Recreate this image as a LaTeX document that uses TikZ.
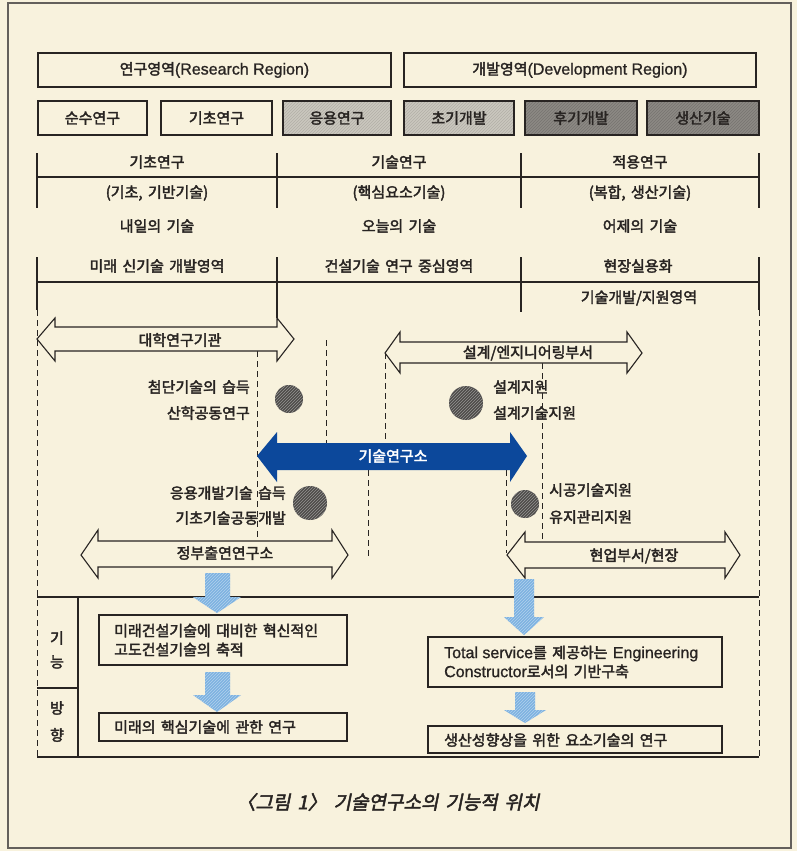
\documentclass[tikz,border=0pt]{standalone}
\usepackage{fontspec}
\setmainfont{Noto Sans CJK KR}[FakeBold=2.5, WordSpace=1.6]
\newfontfamily\latfont{Liberation Sans}[FakeBold=1]
\newfontfamily\capfont{Noto Sans CJK KR}[FakeSlant=0.2, FakeBold=2.5, WordSpace=1.6]
\usetikzlibrary{patterns}
\definecolor{bg}{RGB}{248,242,221}
\definecolor{ink}{RGB}{40,36,34}
\definecolor{framec}{RGB}{100,96,92}
\definecolor{lgray}{RGB}{202,199,190}
\definecolor{dgray}{RGB}{140,137,132}
\definecolor{tblue}{RGB}{12,72,155}
\definecolor{lblue}{RGB}{125,178,225}
\definecolor{dotc}{RGB}{78,76,74}
\newcommand\myfs{\fontsize{15}{20}\selectfont}
\newcommand\lt[1]{{\latfont\fontsize{16}{20}\selectfont #1}}
\tikzset{
  ln/.style={draw=ink, line width=1.1pt},
  dsh/.style={draw=ink, line width=1pt, dash pattern=on 6pt off 4pt},
  box/.style={draw=ink, line width=1.1pt, fill=bg, inner sep=0pt, font=\myfs, text=ink},
  gbox/.style={draw=ink, line width=1.1pt, inner sep=0pt, font=\myfs, text=ink,
    preaction={fill=lgray}, pattern=north east lines, pattern color=lgray!88!black},
  dbox/.style={draw=ink, line width=1.1pt, inner sep=0pt, font=\myfs, text=ink,
    preaction={fill=dgray}, pattern=north east lines, pattern color=dgray!85!black},
  txt/.style={text=ink, inner sep=0pt, font=\myfs},
  hollow/.style={draw=ink, line width=1.1pt, fill=bg, line join=miter},
  lbarrow/.style={preaction={fill=lblue}, pattern=north east lines, pattern color=lblue!60!white},
  dotn/.style={circle, inner sep=0pt, preaction={fill=dotc}, pattern=north east lines, pattern color=dotc!60!white},
}
\begin{document}
\begin{tikzpicture}[x=1pt,y=-1pt]
\useasboundingbox (0,0) rectangle (797,851);
\fill[bg] (0,0) rectangle (797,851);
\draw[framec, line width=1.2pt] (8,3) rectangle (791,848);

% top region boxes
\node[box, minimum width=353pt, minimum height=34pt] (rr) at (214.5,70) {연구영역\lt{(Research Region)}};
\node[box, minimum width=352pt, minimum height=34pt] (dr) at (580,70) {개발영역\lt{(Development Region)}};
\node[box, minimum width=109pt, minimum height=34pt] (b1) at (92.5,118) {순수연구};
\node[box, minimum width=111pt, minimum height=34pt] (b2) at (216.5,118) {기초연구};
\node[gbox, minimum width=108pt, minimum height=34pt] (b3) at (337,118) {응용연구};
\node[gbox, minimum width=110pt, minimum height=34pt] (b4) at (459,118) {초기개발};
\node[dbox, minimum width=112pt, minimum height=34pt] (b5) at (581,118) {후기개발};
\node[dbox, minimum width=112pt, minimum height=34pt] (b6) at (703,118) {생산기술};

% header grid
\foreach \x in {37,277,521,759} {\draw[ln] (\x,153) -- (\x,208);}
\draw[ln] (37,177) -- (759,177);
\draw[ln] (37,257) -- (37,310);
\draw[ln] (277,257) -- (277,318);
\draw[ln] (521,257) -- (521,312);
\draw[ln] (759,257) -- (759,310);
\draw[ln] (37,282) -- (759,282);

\node[txt] (h11) at (157,162) {기초연구};
\node[txt] (h12) at (399,162) {기술연구};
\node[txt] (h13) at (640,162) {적용연구};
\node[txt] (h21) at (157,193) {(기초, 기반기술)};
\node[txt] (h22) at (399,193) {(핵심요소기술)};
\node[txt] (h23) at (640,193) {(복합, 생산기술)};
\node[txt] (h31) at (157,226) {내일의 기술};
\node[txt] (h32) at (399,226) {오늘의 기술};
\node[txt] (h33) at (640,226) {어제의 기술};
\node[txt] (h41) at (157,266) {미래 신기술 개발영역};
\node[txt] (h42) at (399,266) {건설기술 연구 중심영역};
\node[txt] (h43) at (638,266) {현장실용화};
\node[txt] (h53) at (639,298) {기술개발/지원영역};

% dashed guide lines
\draw[dsh] (37,310) -- (37,757);
\draw[dsh] (759,310) -- (759,757);
\draw[dsh] (257,351) -- (257,541);
\draw[dsh] (326,340) -- (326,443);
\draw[dsh] (385,353) -- (385,443);
\draw[dsh] (368,470) -- (368,556);
\draw[dsh] (506,470) -- (506,553);
\draw[dsh] (542,363) -- (542,542);

% hollow double arrows
\draw[hollow] (37,339) -- (55,318) -- (55,327) -- (277,327) -- (277,318) -- (294,339)
  -- (277,361) -- (277,351) -- (55,351) -- (55,361) -- cycle;
\node[txt] (ua) at (180,340) {대학연구기관};

\draw[hollow] (385,353) -- (400,332) -- (400,342) -- (627,342) -- (627,332) -- (642,353)
  -- (627,373) -- (627,363) -- (400,363) -- (400,373) -- cycle;
\node[txt] (ea) at (528,353) {설계/엔지니어링부서};

\draw[hollow] (81,555) -- (98,530) -- (98,541) -- (332,541) -- (332,530) -- (348,555)
  -- (332,578) -- (332,567) -- (98,567) -- (98,578) -- cycle;
\node[txt] (ga) at (225,553) {정부출연연구소};

\draw[hollow] (507,555) -- (525,532) -- (525,542) -- (725,542) -- (725,532) -- (740,555)
  -- (725,578) -- (725,568) -- (525,568) -- (525,578) -- cycle;
\node[txt] (fa) at (634,556) {현업부서/현장};

% blue arrow
\fill[tblue] (257,456) -- (277,432) -- (277,443) -- (510,443) -- (510,432) -- (527,456)
  -- (510,482) -- (510,470) -- (277,470) -- (277,482) -- cycle;
\node[txt, text=white] (ta) at (393,456) {기술연구소};

% dots and labels
\node[dotn, minimum size=28pt] (d1) at (289,399) {};
\node[dotn, minimum size=34pt] (d2) at (310,503) {};
\node[dotn, minimum size=34pt] (d3) at (466,403) {};
\node[dotn, minimum size=28pt] (d4) at (525,504) {};
\node[txt, anchor=east] (l1a) at (250,387) {첨단기술의 습득};
\node[txt, anchor=east] (l1b) at (250,413) {산학공동연구};
\node[txt, anchor=east] (l2a) at (286,493) {응용개발기술 습득};
\node[txt, anchor=east] (l2b) at (286,518) {기초기술공동개발};
\node[txt, anchor=west] (l3a) at (493,387) {설계지원};
\node[txt, anchor=west] (l3b) at (493,413) {설계기술지원};
\node[txt, anchor=west] (l4a) at (549,490) {시공기술지원};
\node[txt, anchor=west] (l4b) at (549,517) {유지관리지원};

% bottom section lines
\draw[ln] (37,597) -- (759,597);
\draw[ln] (37,757) -- (759,757);
\draw[ln] (78,597) -- (78,757);
\draw[ln] (37,688) -- (78,688);
\node[txt] (v1) at (57,638) {기};
\node[txt] (v2) at (57,662) {능};
\node[txt] (v3) at (57,708) {방};
\node[txt] (v4) at (57,735) {향};

% light blue arrows
\path[lbarrow] (205,573) -- (230,573) -- (230,597) -- (241,597) -- (217,613) -- (193,597) -- (205,597) -- cycle;
\path[lbarrow] (205,672) -- (230,672) -- (230,695) -- (241,695) -- (217,712) -- (193,695) -- (205,695) -- cycle;
\path[lbarrow] (514,579) -- (534,579) -- (534,617) -- (544,617) -- (524,635) -- (504,617) -- (514,617) -- cycle;
\path[lbarrow] (515,692) -- (535,692) -- (535,710) -- (546,710) -- (525,723) -- (504,710) -- (515,710) -- cycle;

% bottom boxes
\draw[ln, fill=bg] (99,615) rectangle (347,665);
\node[txt, anchor=west, align=left] (t1) at (114,640) {미래건설기술에 대비한 혁신적인\\[-1pt]고도건설기술의 축적};
\draw[ln, fill=bg] (99,713) rectangle (347,741);
\node[txt, anchor=west] (t2) at (114,727) {미래의 핵심기술에 관한 연구};
\draw[ln, fill=bg] (428,637) rectangle (722,687);
\node[txt, anchor=west, align=left] (t3) at (444,662) {\lt{Total service}를 제공하는 \lt{Engineering}\\[-1pt]\lt{Constructor}로서의 기반구축};
\draw[ln, fill=bg] (428,726) rectangle (722,753);
\node[txt, anchor=west] (t4) at (444,740) {생산성향상을 위한 요소기술의 연구};

% caption
\node[text=ink, inner sep=0pt, font=\capfont\fontsize{19}{22}\selectfont] (cap) at (388,802) {〈그림 1〉 기술연구소의 기능적 위치};
\end{tikzpicture}
\end{document}
